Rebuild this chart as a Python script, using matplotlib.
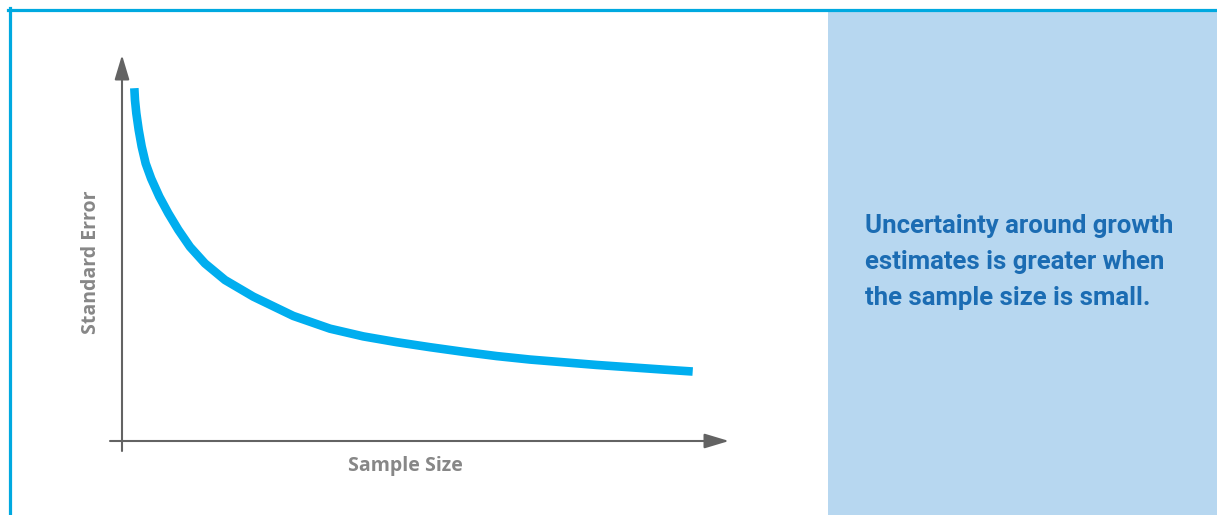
import numpy as np
import matplotlib
matplotlib.use("Agg")
import matplotlib.pyplot as plt
from matplotlib.patches import Rectangle, FancyArrowPatch
from matplotlib.lines import Line2D

# values (arbitrary units, no ticks in the original)
sample_size = np.array([2.03, 2.14, 2.36, 2.75, 3.24, 3.90, 4.80, 6.15, 7.63, 9.28,
                        11.20, 13.67, 16.97, 21.63, 28.22, 34.27, 39.75, 45.26, 50.74,
                        56.23, 61.73, 67.22, 72.70, 78.20, 83.69, 89.18, 94.02])
std_error = np.array([0.914, 0.883, 0.849, 0.806, 0.763, 0.719, 0.680, 0.633, 0.590, 0.547,
                      0.503, 0.460, 0.417, 0.374, 0.324, 0.291, 0.271, 0.256, 0.243,
                      0.231, 0.220, 0.211, 0.204, 0.197, 0.191, 0.185, 0.180])

x_label = "Sample Size"
y_label = "Standard Error"
note = "Uncertainty around growth\nestimates is greater when\nthe sample size is small."

W, H = 1217, 515
fig = plt.figure(figsize=(W / 100, H / 100), dpi=100)

def fx(px):
    return px / W

def fy(py):
    return 1 - py / H

# right-hand panel and frame
fig.add_artist(Rectangle((fx(828), 0), 1 - fx(828), fy(10), transform=fig.transFigure,
                         facecolor="#b7d7f0", edgecolor="none", zorder=0))
fig.add_artist(Line2D([fx(8), 1], [fy(9.5), fy(9.5)], transform=fig.transFigure,
                      color="#00a9e0", lw=2.3, zorder=1))
fig.add_artist(Line2D([fx(9.5), fx(9.5)], [0, fy(8)], transform=fig.transFigure,
                      color="#00a9e0", lw=2.3, zorder=1))

# axes: left edge at the y-axis, bottom at the x-axis
ax = fig.add_axes([fx(122), fy(441), fx(729) - fx(122), fy(55) - fy(441)])
ax.set_xlim(0, 100)
ax.set_ylim(0, 1)
ax.axis("off")
ax.patch.set_alpha(0)

ax.plot(sample_size, std_error, color="#00aeef", lw=6.2, solid_capstyle="butt",
        solid_joinstyle="round", zorder=3)

axis_col = "#636363"
arrow_kw = dict(arrowstyle="-|>,head_length=1.5,head_width=0.45", mutation_scale=10,
                color=axis_col, lw=1.5, shrinkA=0, shrinkB=0, zorder=2)
for start, end in [((110, 441), (729, 441)), ((122, 451), (122, 55))]:
    arr = FancyArrowPatch((fx(start[0]), fy(start[1])), (fx(end[0]), fy(end[1])),
                          transform=fig.transFigure, **arrow_kw)
    arr.set_clip_on(False)
    fig.add_artist(arr)

fig.text(fx(91), fy(262), y_label, rotation=90, ha="center", va="center",
         fontsize=14, fontweight="bold", family="Open Sans", color="#878787")
fig.text(fx(405), fy(466), x_label, ha="center", va="center",
         fontsize=14, fontweight="bold", family="Open Sans", color="#878787")

fig.text(fx(865), fy(262), note, ha="left", va="center", fontsize=18.5,
         fontweight="bold", family="Roboto", color="#1b6cb3", linespacing=1.63)

fig.savefig("out.png", dpi=100)
